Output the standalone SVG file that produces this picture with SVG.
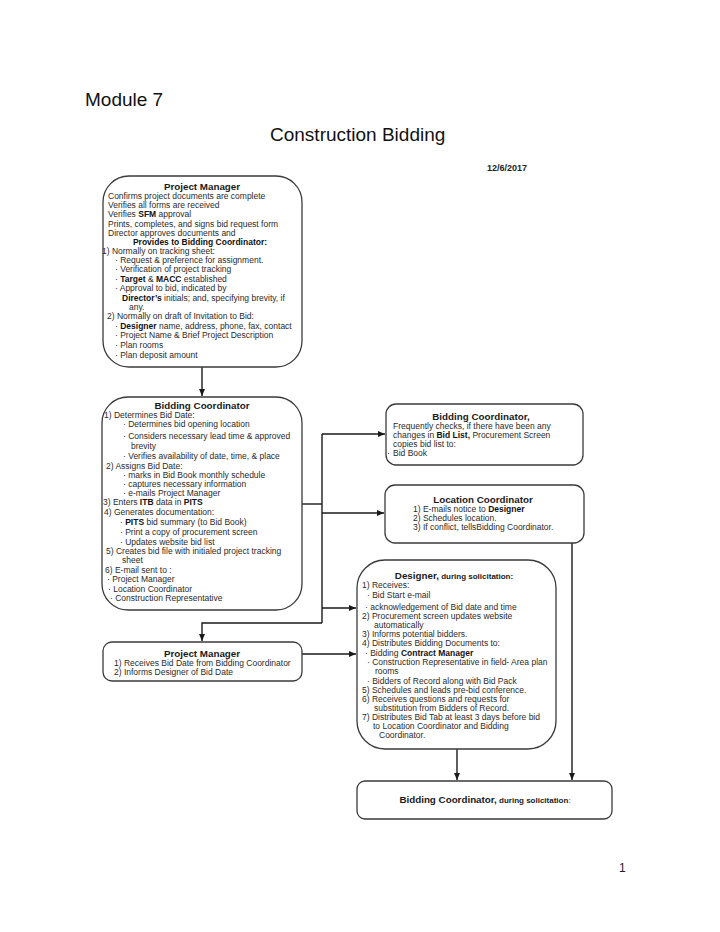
<svg xmlns="http://www.w3.org/2000/svg" width="720" height="932" viewBox="0 0 720 932">
<defs>
<style>
.title{font-family:"Liberation Sans",Arial,sans-serif;font-size:19px;fill:#111}
.date{font-family:"Liberation Sans",Arial,sans-serif;font-size:9px;font-weight:bold;fill:#222}
.h{font-family:"Liberation Sans",Arial,sans-serif;font-size:9.8px;font-weight:bold;fill:#1a1a1a;text-anchor:middle}
.t{font-family:"Liberation Sans",Arial,sans-serif;font-size:8.5px;fill:#2a2a2a}
.b{font-weight:bold;fill:#111}
.s{font-size:8px}
.box{fill:#fff;stroke:#3a3a3a;stroke-width:1.3}
.c{fill:none;stroke:#1a1a1a;stroke-width:1.4}
.pg{font-family:"Liberation Sans",Arial,sans-serif;font-size:12px;fill:#222}
</style>
<marker id="ah" markerWidth="8" markerHeight="7" refX="7" refY="3" orient="auto" markerUnits="userSpaceOnUse">
<path d="M0,0 L7,3 L0,6 z" fill="#1a1a1a"/>
</marker>
</defs>
<rect width="720" height="932" fill="#fff"/>
<text class="title" x="85" y="106">Module 7</text>
<text class="title" x="270" y="141">Construction Bidding</text>
<text class="date" x="487" y="171">12/6/2017</text>

<g id="connectors">
<path class="c" d="M202,367 V396" marker-end="url(#ah)"/>
<path class="c" d="M302,504 H322"/>
<path class="c" d="M322,434 V623"/>
<path class="c" d="M322,434 H385" marker-end="url(#ah)"/>
<path class="c" d="M322,513 H384" marker-end="url(#ah)"/>
<path class="c" d="M322,608 H356" marker-end="url(#ah)"/>
<path class="c" d="M322,623 H202 V641" marker-end="url(#ah)"/>
<path class="c" d="M302,654 H356" marker-end="url(#ah)"/>
<path class="c" d="M457,749 V780" marker-end="url(#ah)"/>
<path class="c" d="M572,543 V780" marker-end="url(#ah)"/>
</g>

<g id="pm1">
<rect class="box" x="103" y="176" width="199" height="191" rx="26"/>
<text class="h" x="202" y="189.5">Project Manager</text>
<text class="t" x="108" y="199">Confirms project documents are complete</text>
<text class="t" x="108" y="208">Verifies all forms are received</text>
<text class="t" x="108" y="217">Verifies <tspan class="b">SFM</tspan> approval</text>
<text class="t" x="108" y="227">Prints, completes, and signs bid request form</text>
<text class="t" x="108" y="236">Director approves documents and</text>
<text class="t b" x="200" y="245" text-anchor="middle">Provides to Bidding Coordinator:</text>
<text class="t" x="102" y="254">1) Normally on tracking sheet:</text>
<text class="t" x="115" y="263">· Request &amp; preference for assignment.</text>
<text class="t" x="115" y="272">· Verification of project tracking</text>
<text class="t" x="115" y="282">· <tspan class="b">Target</tspan> &amp; <tspan class="b">MACC</tspan> established</text>
<text class="t" x="115" y="291">· Approval to bid, indicated by</text>
<text class="t" x="122" y="300.5"><tspan class="b">Director’s</tspan> initials; and, specifying brevity, if</text>
<text class="t" x="129" y="310">any.</text>
<text class="t" x="107" y="319">2) Normally on draft of Invitation to Bid:</text>
<text class="t" x="115" y="328.5">· <tspan class="b">Designer</tspan> name, address, phone, fax, contact</text>
<text class="t" x="115" y="338">· Project Name &amp; Brief Project Description</text>
<text class="t" x="115" y="348">· Plan rooms</text>
<text class="t" x="115" y="358">· Plan deposit amount</text>
</g>

<g id="bc1">
<rect class="box" x="102" y="397" width="200" height="213" rx="26"/>
<text class="h" x="202" y="408.5">Bidding Coordinator</text>
<text class="t" x="104" y="417.5">1) Determines Bid Date:</text>
<text class="t" x="123" y="427">· Determines bid opening location</text>
<text class="t" x="123" y="439">· Considers necessary lead time &amp; approved</text>
<text class="t" x="131" y="448.5">brevity</text>
<text class="t" x="123" y="459">· Verifies availability of date, time, &amp; place</text>
<text class="t" x="106" y="469">2) Assigns Bid Date:</text>
<text class="t" x="123" y="478">· marks in Bid Book monthly schedule</text>
<text class="t" x="123" y="487">· captures necessary information</text>
<text class="t" x="123" y="496">·  e-mails Project Manager</text>
<text class="t" x="103" y="505">3)  Enters <tspan class="b">ITB</tspan> data in <tspan class="b">PITS</tspan></text>
<text class="t" x="104" y="515">4) Generates documentation:</text>
<text class="t" x="120" y="525">· <tspan class="b">PITS</tspan> bid summary (to Bid Book)</text>
<text class="t" x="120" y="535">· Print a copy of  procurement  screen</text>
<text class="t" x="120" y="545">· Updates website bid list</text>
<text class="t" x="106" y="554">5) Creates bid file with initialed project tracking</text>
<text class="t" x="122" y="563">sheet</text>
<text class="t" x="105" y="573">6) E-mail sent to :</text>
<text class="t" x="107" y="582">· Project Manager</text>
<text class="t" x="108" y="591.5">· Location Coordinator</text>
<text class="t" x="110" y="601">· Construction Representative</text>
</g>

<g id="bc2">
<rect class="box" x="386" y="404" width="197" height="61" rx="10"/>
<text class="h" x="481" y="419.5">Bidding Coordinator,</text>
<text class="t" x="393" y="429">Frequently checks, if there have been any</text>
<text class="t" x="393" y="438">changes in <tspan class="b">Bid List,</tspan> Procurement Screen</text>
<text class="t" x="393" y="447">copies bid list to:</text>
<text class="t" x="387" y="456">·</text>
<text class="t" x="393" y="456">Bid Book</text>
</g>

<g id="lc">
<rect class="box" x="385" y="485" width="199" height="58" rx="10"/>
<text class="h" x="483" y="502.5">Location Coordinator</text>
<text class="t" x="413" y="512">1) E-mails notice to <tspan class="b">Designer</tspan></text>
<text class="t" x="413" y="521">2) Schedules location.</text>
<text class="t" x="413" y="530">3) If conflict, tellsBidding Coordinator.</text>
</g>

<g id="designer">
<rect class="box" x="357" y="560" width="199" height="189" rx="28"/>
<text class="h" x="454" y="578.5">Designer,<tspan class="s"> during solicitation:</tspan></text>
<text class="t" x="362" y="587.5">1) Receives:</text>
<text class="t" x="367" y="598">· Bid Start e-mail</text>
<text class="t" x="365" y="610">· acknowledgement of Bid date and time</text>
<text class="t" x="362" y="619">2) Procurement screen updates website</text>
<text class="t" x="374" y="628">automatically</text>
<text class="t" x="362" y="637">3) Informs potential bidders.</text>
<text class="t" x="362" y="646">4) Distributes Bidding Documents to:</text>
<text class="t" x="365" y="655.5">· Bidding <tspan class="b">Contract Manager</tspan></text>
<text class="t" x="367" y="665">· Construction Representative in field- Area plan</text>
<text class="t" x="375" y="674">rooms</text>
<text class="t" x="367" y="684">· Bidders of Record along with Bid Pack</text>
<text class="t" x="362" y="693">5) Schedules and leads pre-bid conference.</text>
<text class="t" x="362" y="702">6) Receives questions and requests for</text>
<text class="t" x="374" y="711">substitution from Bidders of Record.</text>
<text class="t" x="362" y="720">7) Distributes Bid Tab at least 3 days before bid</text>
<text class="t" x="373" y="729">to Location Coordinator and Bidding</text>
<text class="t" x="379" y="738">Coordinator.</text>
</g>

<g id="pm2">
<rect class="box" x="103" y="642" width="199" height="39" rx="9"/>
<text class="h" x="202" y="656.5">Project Manager</text>
<text class="t" x="114" y="665.5">1) Receives Bid Date from Bidding Coordinator</text>
<text class="t" x="114" y="675">2) Informs Designer of Bid Date</text>
</g>

<g id="bc3">
<rect class="box" x="357" y="781" width="255" height="38" rx="8"/>
<text class="h" x="485" y="802.5">Bidding Coordinator,<tspan class="s"> during solicitation</tspan><tspan class="s" font-weight="normal">:</tspan></text>
</g>

<text class="pg" x="619" y="872">1</text>
</svg>
